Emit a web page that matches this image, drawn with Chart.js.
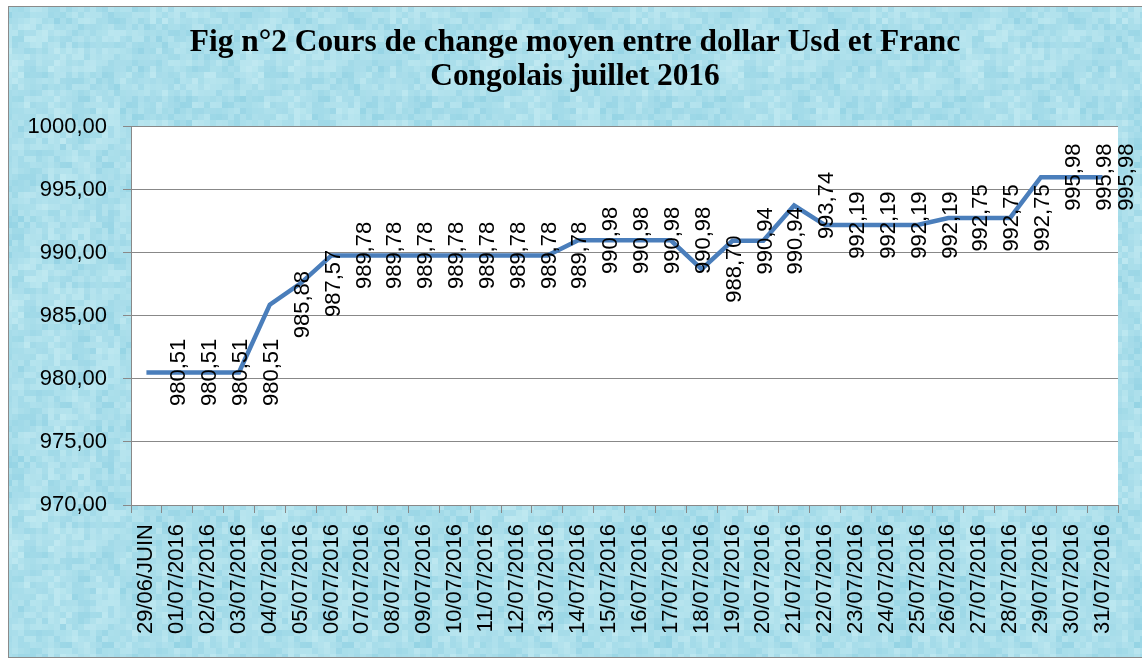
<!DOCTYPE html>
<html>
<head>
<meta charset="utf-8">
<script src="https://cdn.jsdelivr.net/npm/chart.js@4.4.1/dist/chart.umd.min.js"></script>
<style>
  html, body { margin: 0; padding: 0; background: #ffffff; }
  #wrap { width: 1142px; height: 658px; }
</style>
</head>
<body>
<div id="wrap"><canvas id="c" width="1142" height="658"></canvas></div>
<script>
// ---- data ----
const categories = [
  "29/06/JUIN", "01/07/2016", "02/07/2016", "03/07/2016", "04/07/2016", "05/07/2016",
  "06/07/2016", "07/07/2016", "08/07/2016", "09/07/2016", "10/07/2016", "11/07/2016",
  "12/07/2016", "13/07/2016", "14/07/2016", "15/07/2016", "16/07/2016", "17/07/2016",
  "18/07/2016", "19/07/2016", "20/07/2016", "21/07/2016", "22/07/2016", "23/07/2016",
  "24/07/2016", "25/07/2016", "26/07/2016", "27/07/2016", "28/07/2016", "29/07/2016",
  "30/07/2016", "31/07/2016"
];
const rates = [
  980.51, 980.51, 980.51, 980.51, 985.88, 987.57,
  989.78, 989.78, 989.78, 989.78, 989.78, 989.78,
  989.78, 989.78, 990.98, 990.98, 990.98, 990.98,
  988.70, 990.94, 990.94, 993.74, 992.19, 992.19,
  992.19, 992.19, 992.75, 992.75, 992.75, 995.98,
  995.98, 995.98
];
const titleLines = ["Fig n°2 Cours de change moyen entre dollar Usd et Franc", "Congolais juillet 2016"];
const yMin = 970, yMax = 1000, yStep = 5;

const fmt = v => Number(v).toFixed(2).replace('.', ',');

// fit title font size to the reference title width
const TITLE_FAMILY = '"Liberation Serif", "Times New Roman", serif';
const titleSize = (() => {
  const m = document.createElement('canvas').getContext('2d');
  m.font = 'bold 100px ' + TITLE_FAMILY;
  const w = m.measureText(titleLines[0]).width;
  return Math.round(100 * 771 / w * 10) / 10;
})();

// textured light-blue background tile (deterministic value noise)
function hash(x, y) {
  return Math.abs(Math.sin(x * 12.9898 + y * 78.233) * 43758.5453) % 1;
}
function makeTile() {
  const N = 240, cell = 6;
  const t = document.createElement('canvas');
  t.width = N; t.height = N;
  const g = t.getContext('2d');
  const n = N / cell;
  for (let j = 0; j < n; j++) {
    for (let i = 0; i < n; i++) {
      const coarse = hash(Math.floor(i / 4) + 7, Math.floor(j / 4) + 3);
      const fine = hash(i, j);
      const v = 0.4 * coarse + 0.6 * fine; // 0..1
      const r = Math.round(192 - 44 * v);
      const gg = Math.round(233 - 22 * v);
      const b = Math.round(241 - 13 * v);
      g.fillStyle = `rgb(${r},${gg},${b})`;
      g.fillRect(i * cell, j * cell, cell, cell);
    }
  }
  return t;
}

const bgPlugin = {
  id: 'bg',
  beforeDraw(chart) {
    const ctx = chart.ctx;
    const W = chart.width, H = chart.height;
    ctx.save();
    ctx.fillStyle = '#ffffff';
    ctx.fillRect(0, 0, W, H);
    ctx.fillStyle = ctx.createPattern(makeTile(), 'repeat');
    ctx.fillRect(8, 6, W - 8, H - 6);
    ctx.strokeStyle = '#8a8a8a';
    ctx.lineWidth = 1;
    ctx.strokeRect(8.5, 6.5, W - 8, H - 7);
    const a = chart.chartArea;
    ctx.fillStyle = '#ffffff';
    ctx.fillRect(a.left, a.top, a.right - a.left, a.bottom - a.top);
    ctx.restore();
  }
};

const labelPlugin = {
  id: 'rotLabels',
  afterDatasetsDraw(chart) {
    const ctx = chart.ctx;
    const meta = chart.getDatasetMeta(0);
    const data = chart.data.datasets[0].data;
    ctx.save();
    ctx.font = '22px "Liberation Sans", Arial, sans-serif';
    ctx.fillStyle = '#000000';
    ctx.textAlign = 'center';
    ctx.textBaseline = 'middle';
    meta.data.forEach((el, i) => {
      const x = Math.min(el.x + 33, chart.width - 15);
      ctx.save();
      ctx.translate(x, el.y);
      ctx.rotate(-Math.PI / 2);
      ctx.fillText(fmt(data[i]), 0, 0);
      ctx.restore();
    });
    ctx.restore();
  }
};

new Chart(document.getElementById('c'), {
  type: 'line',
  data: {
    labels: categories,
    datasets: [{
      data: rates,
      borderColor: '#4a7ebb',
      borderWidth: 4.5,
      pointRadius: 0,
      tension: 0,
      fill: false
    }]
  },
  options: {
    responsive: false,
    animation: false,
    layout: { padding: { left: 8, right: 0, top: 0, bottom: 0 } },
    plugins: {
      legend: { display: false },
      tooltip: { enabled: false },
      title: {
        display: true,
        text: titleLines,
        color: '#000000',
        font: { family: TITLE_FAMILY, size: titleSize, weight: 'bold', lineHeight: '34px' },
        padding: { top: 26, bottom: 32.5 }
      }
    },
    scales: {
      x: {
        offset: true,
        grid: { offset: true, drawOnChartArea: false, drawTicks: true, tickLength: 8, color: '#888888' },
        border: { display: true, color: '#888888', width: 1 },
        ticks: {
          autoSkip: false, maxRotation: 90, minRotation: 90, padding: 11,
          color: '#000000',
          font: { family: '"Liberation Sans", Arial, sans-serif', size: 22 }
        },
        afterFit(s) { s.height = 153; }
      },
      y: {
        min: yMin, max: yMax,
        grid: { color: '#888888', lineWidth: 1, tickLength: 8 },
        border: { display: true, color: '#888888', width: 1 },
        ticks: {
          stepSize: yStep, padding: 16, color: '#000000',
          font: { family: '"Liberation Sans", Arial, sans-serif', size: 22 },
          callback: v => fmt(v)
        },
        afterFit(s) { s.width = 123; }
      },
      yPad: {
        position: 'right',
        display: true,
        grid: { display: false, drawTicks: false },
        border: { display: false },
        ticks: { display: false },
        afterFit(s) { s.width = 24; }
      }
    }
  },
  plugins: [bgPlugin, labelPlugin]
});
</script>
</body>
</html>
